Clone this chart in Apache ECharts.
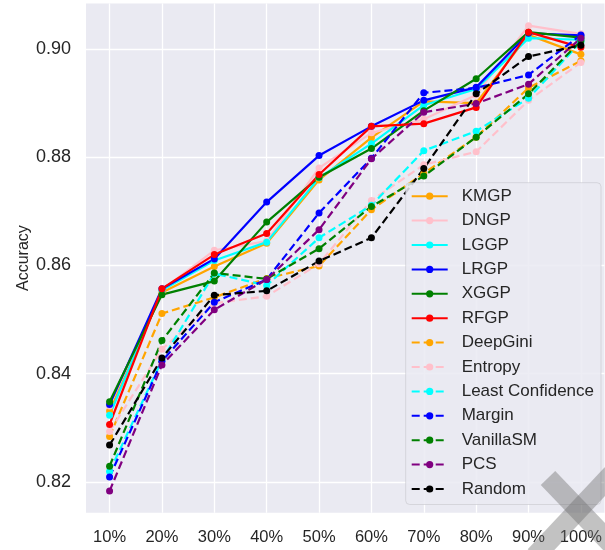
<!DOCTYPE html>
<html>
<head>
<meta charset="utf-8">
<script src="https://cdn.jsdelivr.net/npm/echarts@6/dist/echarts.min.js"></script>
<style>html,body{margin:0;padding:0;background:#fff;}#c{width:605px;height:550px;}</style>
</head>
<body>
<div id="c"></div>
<script>
const categories = ['10%','20%','30%','40%','50%','60%','70%','80%','90%','100%'];
const yTicks = [0.82, 0.84, 0.86, 0.88, 0.90];

const KMGP     = [0.8331, 0.8550, 0.8598, 0.8641, 0.8758, 0.8836, 0.8903, 0.8900, 0.9026, 0.8990];
const DNGP     = [0.8340, 0.8555, 0.8628, 0.8645, 0.8780, 0.8845, 0.8870, 0.8915, 0.9043, 0.9028];
const LGGP     = [0.8323, 0.8554, 0.8609, 0.8643, 0.8762, 0.8825, 0.8896, 0.8926, 0.9020, 0.9017];
const LRGP     = [0.8343, 0.8557, 0.8612, 0.8717, 0.8803, 0.8857, 0.8905, 0.8929, 0.9029, 0.9025];
const XGGP     = [0.8348, 0.8546, 0.8571, 0.8680, 0.8763, 0.8816, 0.8886, 0.8945, 0.9031, 0.9021];
const RFGP     = [0.8306, 0.8557, 0.8620, 0.8659, 0.8768, 0.8857, 0.8862, 0.8892, 0.9031, 0.9003];
const DeepGini = [0.8284, 0.8511, 0.8541, 0.8576, 0.8599, 0.8703, 0.8770, 0.8837, 0.8928, 0.8978];
const Entropy  = [0.8293, 0.8445, 0.8530, 0.8543, 0.8603, 0.8720, 0.8786, 0.8810, 0.8905, 0.8975];
const LeastConfidence = [0.8219, 0.8425, 0.8585, 0.8563, 0.8651, 0.8711, 0.8812, 0.8848, 0.8909, 0.9013];
const Margin   = [0.8209, 0.8423, 0.8532, 0.8574, 0.8697, 0.8798, 0.8919, 0.8928, 0.8952, 0.9026];
const VanillaSM= [0.8229, 0.8461, 0.8586, 0.8575, 0.8631, 0.8709, 0.8765, 0.8837, 0.8917, 0.9015];
const PCS      = [0.8183, 0.8416, 0.8518, 0.8574, 0.8666, 0.8797, 0.8883, 0.8899, 0.8935, 0.9020];
const Random   = [0.8268, 0.8429, 0.8545, 0.8553, 0.8608, 0.8651, 0.8779, 0.8917, 0.8986, 0.9007];

const seriesDefs = [
  ['KMGP', KMGP, '#FFA500', false],
  ['DNGP', DNGP, '#FFC0CB', false],
  ['LGGP', LGGP, '#00FFFF', false],
  ['LRGP', LRGP, '#0000FF', false],
  ['XGGP', XGGP, '#008000', false],
  ['RFGP', RFGP, '#FF0000', false],
  ['DeepGini', DeepGini, '#FFA500', true],
  ['Entropy', Entropy, '#FFC0CB', true],
  ['Least Confidence', LeastConfidence, '#00FFFF', true],
  ['Margin', Margin, '#0000FF', true],
  ['VanillaSM', VanillaSM, '#008000', true],
  ['PCS', PCS, '#800080', true],
  ['Random', Random, '#000000', true]
];

const xVals = categories.map(c => parseFloat(c));
const FONT = "'Liberation Sans', Arial, sans-serif";
const TXT = '#262626';

const series = seriesDefs.map(([name, vals, color, dashed]) => ({
  name: name,
  type: 'line',
  z: 2,
  data: vals.map((v, i) => [xVals[i], v]),
  symbol: 'circle',
  symbolSize: 7,
  showSymbol: true,
  animation: false,
  itemStyle: { color: color },
  lineStyle: { color: color, width: 2.2, type: dashed ? [8, 4] : 'solid' }
}));

const chart = echarts.init(document.getElementById('c'), null, { renderer: 'canvas' });
chart.setOption({
  backgroundColor: '#ffffff',
  animation: false,
  textStyle: { fontFamily: FONT },
  grid: {
    left: 86, top: 3.5, width: 525, height: 509.2,
    show: true, backgroundColor: '#EAEAF2', borderWidth: 0, containLabel: false
  },
  xAxis: {
    type: 'value', min: 5.5, max: 104.5,
    axisLine: { show: false },
    axisTick: { show: false, customValues: xVals },
    axisLabel: {
      customValues: xVals, formatter: v => v + '%',
      color: TXT, fontSize: 16.5, fontFamily: FONT, margin: 16
    },
    splitLine: { show: true, lineStyle: { color: '#ffffff', width: 1.3 } }
  },
  yAxis: {
    type: 'value', min: 0.8143, max: 0.9084,
    name: 'Accuracy', nameLocation: 'middle', nameGap: 54, nameMoveOverlap: false,
    nameTextStyle: { color: TXT, fontSize: 16, fontFamily: FONT },
    axisLine: { show: false },
    axisTick: { show: false, customValues: yTicks },
    axisLabel: {
      customValues: yTicks, formatter: v => v.toFixed(2),
      color: TXT, fontSize: 18, fontFamily: FONT, margin: 15
    },
    splitLine: { show: true, lineStyle: { color: '#ffffff', width: 1.3 } }
  },
  legend: {
    z: 10,
    orient: 'vertical', left: 405.7, top: 182.7,
    itemWidth: 36, itemHeight: 9, itemGap: 7.4,
    padding: [5, 7, 7, 5],
    backgroundColor: 'rgba(234,234,242,0.85)',
    borderColor: 'rgba(195,195,200,0.55)',
    borderWidth: 1,
    borderRadius: 4,
    textStyle: { color: TXT, fontSize: 17, fontFamily: FONT, padding: [0, 0, 0, 9] },
    data: seriesDefs.map(d => d[0])
  },
  graphic: [
    { type: 'line', z: 100, silent: true,
      shape: { x1: 548, y1: 478, x2: 615, y2: 548 },
      style: { stroke: 'rgba(110,110,110,0.42)', lineWidth: 20 } },
    { type: 'line', z: 100, silent: true,
      shape: { x1: 612, y1: 474, x2: 535, y2: 556 },
      style: { stroke: 'rgba(110,110,110,0.42)', lineWidth: 20 } }
  ],
  series: series
});
</script>
</body>
</html>
